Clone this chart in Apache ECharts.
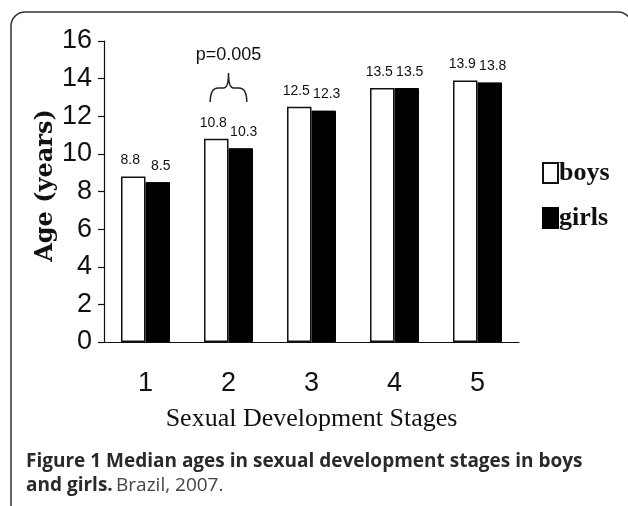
<!DOCTYPE html>
<html>
<head>
<meta charset="utf-8">
<script src="https://cdn.jsdelivr.net/npm/echarts@6/dist/echarts.min.js"></script>
<style>
  html, body { margin: 0; padding: 0; background: #fff; }
  #main { width: 628px; height: 506px; }
</style>
</head>
<body>
<div id="main"></div>
<script>
var stages = ['1', '2', '3', '4', '5'];
var boys = [8.8, 10.8, 12.5, 13.5, 13.9];
var girls = [8.5, 10.3, 12.3, 13.5, 13.8];
var yTicks = [0, 2, 4, 6, 8, 10, 12, 14, 16];
// p-value bracket over stage 2
var brace = { stage: '2', level: 13.5, text: 'p=0.005' };

var narrow = '"Liberation Sans Narrow", "Arial Narrow", "Liberation Sans", sans-serif';
var serif = '"Liberation Serif", "Times New Roman", serif';

var myChart = echarts.init(document.getElementById('main'));

function braceItem(params, api) {
    var pt = api.coord([api.value(0), api.value(1)]);
    var half = api.size([1, 0])[0] * 0.22;
    var xm = pt[0], yh = pt[1];
    var x1 = xm - half, x2 = xm + half;
    var yb = yh + 14, yp = yh - 15;
    var d = 'M' + x1 + ' ' + yb + ' Q' + x1 + ' ' + yh + ' ' + (x1 + 8) + ' ' + yh +
        ' L' + (xm - 5) + ' ' + yh + ' Q' + xm + ' ' + yh + ' ' + xm + ' ' + yp +
        ' Q' + xm + ' ' + yh + ' ' + (xm + 5) + ' ' + yh +
        ' L' + (x2 - 8) + ' ' + yh + ' Q' + x2 + ' ' + yh + ' ' + x2 + ' ' + yb;
    return {
        type: 'group',
        children: [{
            type: 'path',
            shape: { pathData: d },
            style: { fill: 'none', stroke: '#222', lineWidth: 1.5 }
        }, {
            type: 'text',
            style: {
                x: xm, y: yp - 18, text: api.value(2),
                textAlign: 'center', textVerticalAlign: 'middle',
                fontFamily: narrow, fontSize: 18, fill: '#111'
            }
        }]
    };
}

option = {
    animation: false,
    backgroundColor: '#fff',
    grid: { left: 104, right: 109, top: 41, bottom: 164 },
    legend: {
        orient: 'vertical',
        left: 537,
        top: 155,
        itemWidth: 15,
        itemHeight: 20,
        itemGap: 19,
        icon: 'rect',
        textStyle: { fontFamily: serif, fontWeight: 'bold', fontSize: 26, color: '#111', padding: [0, 0, 0, -4] },
        data: ['boys', 'girls']
    },
    xAxis: {
        type: 'category',
        data: stages,
        name: 'Sexual Development Stages',
        nameLocation: 'middle',
        nameGap: 64,
        nameMoveOverlap: false,
        nameTextStyle: { fontFamily: serif, fontSize: 26, color: '#111' },
        axisLine: { lineStyle: { color: '#111', width: 1.2 } },
        axisTick: { length: 8, lineStyle: { color: '#111', width: 1.2 } },
        axisLabel: { fontFamily: narrow, fontSize: 27, color: '#111', margin: 28 }
    },
    yAxis: {
        type: 'value',
        min: yTicks[0],
        max: yTicks[yTicks.length - 1],
        interval: 2,
        name: 'Age (years)',
        nameLocation: 'middle',
        nameGap: 46,
        nameMoveOverlap: false,
        nameTextStyle: { fontFamily: '"DejaVu Serif", serif', fontWeight: 'bold', fontSize: 24, color: '#111', padding: [0, 0, 0, 12] },
        splitLine: { show: false },
        axisLine: { show: true, lineStyle: { color: '#111', width: 1.2 } },
        axisTick: { show: true, length: 6, lineStyle: { color: '#111', width: 1.2 } },
        axisLabel: { fontFamily: narrow, fontSize: 27, color: '#111', margin: 12 }
    },
    series: [{
        name: 'boys',
        type: 'bar',
        data: boys,
        barGap: '0%',
        barCategoryGap: '41%',
        itemStyle: { color: '#fff', borderColor: '#111', borderWidth: 1.5 },
        label: { show: true, position: 'top', distance: 9, offset: [-3, 0], fontFamily: narrow, fontSize: 14, color: '#111' }
    }, {
        name: 'girls',
        type: 'bar',
        data: girls,
        itemStyle: { color: '#000', borderColor: '#000', borderWidth: 1 },
        label: { show: true, position: 'top', distance: 9, offset: [3, 0], fontFamily: narrow, fontSize: 14, color: '#111' }
    }, {
        type: 'custom',
        renderItem: braceItem,
        silent: true,
        z: 5,
        data: [[brace.stage, brace.level, brace.text]]
    }],
    graphic: [{
        type: 'rect',
        shape: { x: 11, y: 12, width: 621, height: 520, r: 14 },
        style: { fill: 'none', stroke: '#333', lineWidth: 1.5 }
    }, {
        type: 'text',
        left: 26,
        top: 452,
        style: {
            text: '{b|Figure 1 Median ages in sexual development stages in boys}\n{b|and girls.} {n|Brazil, 2007.}',
            rich: {
                b: { fontFamily: '"Open Sans", sans-serif', fontWeight: 'bold', fontSize: 19, fill: '#2a2a2a', lineHeight: 24 },
                n: { fontFamily: '"Open Sans", sans-serif', fontSize: 19, fill: '#444', lineHeight: 24 }
            }
        }
    }]
};

myChart.setOption(option);
</script>
</body>
</html>
